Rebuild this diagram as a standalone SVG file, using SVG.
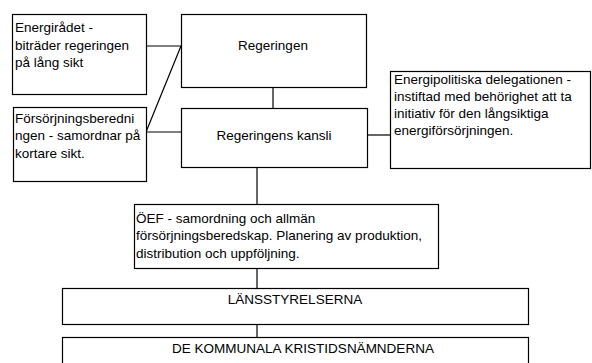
<svg xmlns="http://www.w3.org/2000/svg" width="592" height="363" viewBox="0 0 592 363">
<style>
.box{fill:#fff;stroke:#000;stroke-width:1.2}
.ln{fill:none;stroke:#000;stroke-width:1.2}
text{font-family:"Liberation Sans",Arial,sans-serif;font-size:13.5px;fill:#000}
.c{text-anchor:middle}
</style>
<rect width="592" height="363" fill="#fff"/>
<g id="connectors">
<line class="ln" x1="146" y1="46" x2="181" y2="46"/>
<line class="ln" x1="181" y1="46" x2="146" y2="132"/>
<line class="ln" x1="146" y1="132" x2="181" y2="132"/>
<line class="ln" x1="273" y1="87" x2="273" y2="108"/>
<line class="ln" x1="367" y1="135" x2="390" y2="135"/>
<line class="ln" x1="257" y1="167" x2="257" y2="204"/>
<line class="ln" x1="257" y1="268" x2="257" y2="288"/>
<line class="ln" x1="257" y1="324" x2="257" y2="337"/>
</g>
<g id="energiradet">
<rect class="box" x="12.5" y="14.5" width="134" height="80"/>
<text x="15" y="32">Energirådet -</text>
<text x="15" y="49.5">biträder regeringen</text>
<text x="15" y="67">på lång sikt</text>
</g>
<g id="forsorjning">
<rect class="box" x="13.5" y="107.5" width="133" height="74"/>
<text x="15" y="122.5">Försörjningsberedni</text>
<text x="15" y="140">ngen - samordnar på</text>
<text x="15" y="157.5">kortare sikt.</text>
</g>
<g id="regeringen">
<rect class="box" x="181.5" y="14.5" width="185" height="73"/>
<text class="c" x="273" y="50">Regeringen</text>
</g>
<g id="kansli">
<rect class="box" x="181.5" y="108.5" width="186" height="59"/>
<text class="c" x="274" y="140">Regeringens kansli</text>
</g>
<g id="energipolitiska">
<rect class="box" x="390.5" y="71.5" width="200" height="97"/>
<text x="394" y="83.5">Energipolitiska delegationen -</text>
<text x="394" y="100.5">instiftad med behörighet att ta</text>
<text x="394" y="117.5">initiativ för den långsiktiga</text>
<text x="394" y="134.5">energiförsörjningen.</text>
</g>
<g id="oef">
<rect class="box" x="134.5" y="204.5" width="304" height="64"/>
<text x="136" y="222.5">ÖEF - samordning och allmän</text>
<text x="136" y="240">försörjningsberedskap. Planering av produktion,</text>
<text x="136" y="257.5">distribution och uppföljning.</text>
</g>
<g id="lansstyrelserna">
<rect class="box" x="62.5" y="288.5" width="466" height="36"/>
<text class="c" x="295" y="304">LÄNSSTYRELSERNA</text>
</g>
<g id="kommunala">
<rect class="box" x="62.5" y="337.5" width="466" height="40"/>
<text class="c" x="303" y="353">DE KOMMUNALA KRISTIDSNÄMNDERNA</text>
</g>
</svg>
